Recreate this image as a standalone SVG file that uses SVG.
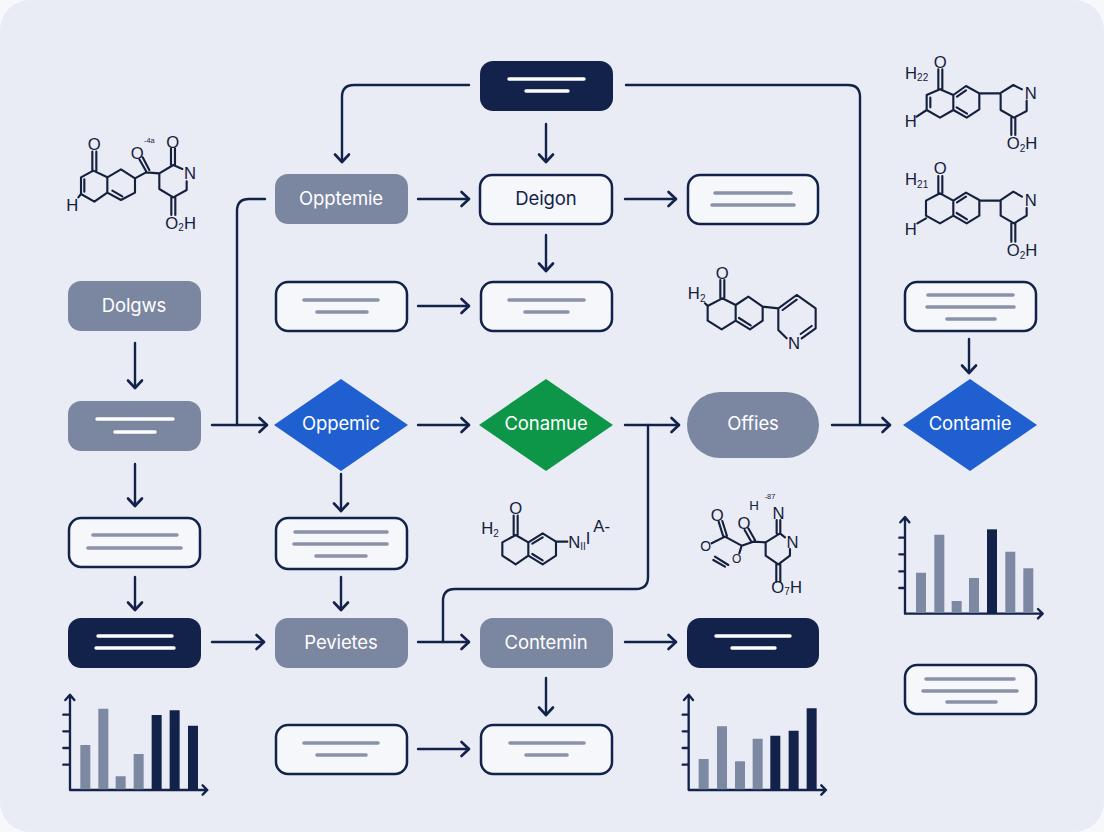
<svg xmlns="http://www.w3.org/2000/svg" width="1104" height="832" viewBox="0 0 1104 832">
<style>
text{font-family:Inter,"Liberation Sans",sans-serif}
.nl{font-size:18.5px;fill:#fff;text-anchor:middle;font-weight:400;letter-spacing:-.1px}
.w{fill:#f5f7fb;stroke:#12224a;stroke-width:2.5}
.g{fill:#7b86a1}.k{fill:#12224a}
.gl{stroke:#8a93a8;stroke-width:3.6;stroke-linecap:round;fill:none}
.wl{stroke:#fff;stroke-width:3.4;stroke-linecap:round;fill:none}
.c{fill:none;stroke:#12224a;stroke-width:2.4;stroke-linecap:round}
.a{marker-end:url(#ah)}
.m{fill:none;stroke:#15203c;stroke-width:6.4;stroke-linecap:round;stroke-linejoin:round}
.mt{font-family:"Liberation Sans",Arial,sans-serif;font-size:50px;fill:#15203c;text-anchor:middle}
.ms{font-size:30px}
.mi{font-size:22px}
.ax{fill:none;stroke:#12224a;stroke-width:7;stroke-linecap:round;stroke-linejoin:round}
.bg{fill:#7d88a3}.bk{fill:#12224a}
</style>
<defs>
<marker id="ah" markerUnits="userSpaceOnUse" markerWidth="14" markerHeight="18" refX="10" refY="9" orient="auto"><path d="M2.5 2 L10 9 L2.5 16" fill="none" stroke="#12224a" stroke-width="2.6" stroke-linecap="round" stroke-linejoin="round"/></marker>
</defs>
<rect width="1104" height="832" fill="#f7f8fb"/>
<rect width="1104" height="832" rx="30" fill="#e9ecf4"/>

<g id="connectors">
<path class="c a" d="M469 85H354Q342 85 342 97V162"/>
<path class="c" d="M626 85H848Q860 85 860 97V425"/>
<path class="c a" d="M546 124V162"/>
<path class="c a" d="M418 199H469"/>
<path class="c a" d="M625 199H676"/>
<path class="c a" d="M546 235V271"/>
<path class="c a" d="M418 306H469"/>
<path class="c" d="M265 199H249Q237 199 237 211V425"/>
<path class="c a" d="M212 425H267"/>
<path class="c a" d="M418 425H469"/>
<path class="c a" d="M625 425H679"/>
<path class="c a" d="M832 425H890"/>
<path class="c a" d="M418 642H469"/>
<path class="c" d="M443 642V601Q443 589 455 589H636Q648 589 648 577V425"/>
<path class="c a" d="M135 343V388"/>
<path class="c a" d="M135 464V506"/>
<path class="c a" d="M135 577V610"/>
<path class="c a" d="M212 642H264"/>
<path class="c a" d="M341 474V511"/>
<path class="c a" d="M341 577V610"/>
<path class="c a" d="M625 642H676"/>
<path class="c a" d="M546 678V715"/>
<path class="c a" d="M418 749H469"/>
<path class="c a" d="M969 339V373"/>
</g>

<g id="n-top"><rect class="k" x="480" y="61" width="133" height="50" rx="13"/><path class="wl" d="M509 79H584M526 91H568"/></g>
<g id="n-opptemie"><rect class="g" x="275" y="174" width="133" height="50" rx="13"/><text class="nl" x="341" y="205">Opptemie</text></g>
<g id="n-deigon"><rect class="w" x="480" y="175" width="132" height="49" rx="12"/><text class="nl" x="546" y="205" style="fill:#12224a">Deigon</text></g>
<g id="n-r1"><rect class="w" x="688" y="175" width="130" height="49" rx="12"/><path class="gl" d="M715 193H791M712 205H794"/></g>
<g id="n-m1"><rect class="w" x="276" y="282" width="131" height="49" rx="12"/><path class="gl" d="M304 300H378M317 312H367"/></g>
<g id="n-m2"><rect class="w" x="481" y="282" width="131" height="49" rx="12"/><path class="gl" d="M509 300H584M525 312H568"/></g>
<g id="n-dolgws"><rect class="g" x="68" y="281" width="133" height="50" rx="13"/><text class="nl" x="134" y="312">Dolgws</text></g>
<g id="n-g2"><rect class="g" x="68" y="401" width="133" height="50" rx="13"/><path class="wl" d="M97 419H173M115 432H155"/></g>
<g id="n-oppemic"><path d="M341 379L408 425L341 471L274 425Z" fill="#1f5fcf"/><text class="nl" x="341" y="430">Oppemic</text></g>
<g id="n-conamue"><path d="M546 379L613 425L546 471L479 425Z" fill="#0d9648"/><text class="nl" x="546" y="430">Conamue</text></g>
<g id="n-offies"><rect class="g" x="687" y="392" width="132" height="66" rx="33"/><text class="nl" x="753" y="430">Offies</text></g>
<g id="n-contamie"><path d="M970 379L1037 425L970 471L903 425Z" fill="#1f5fcf"/><text class="nl" x="970" y="430">Contamie</text></g>
<g id="n-r3"><rect class="w" x="905" y="282" width="131" height="49" rx="12"/><path class="gl" d="M928 295H1013M927 307H1014M947 319H995"/></g>
<g id="n-w1"><rect class="w" x="69" y="518" width="131" height="49" rx="12"/><path class="gl" d="M93 535H177M88 548H181"/></g>
<g id="n-w2"><rect class="w" x="276" y="518" width="131" height="51" rx="12"/><path class="gl" d="M295 532H387M294 544H387M316 556H366"/></g>
<g id="n-k1"><rect class="k" x="68" y="618" width="133" height="50" rx="13"/><path class="wl" d="M98 636H172M96 648H174"/></g>
<g id="n-pevietes"><rect class="g" x="275" y="618" width="133" height="50" rx="13"/><text class="nl" x="341" y="649">Pevietes</text></g>
<g id="n-contemin"><rect class="g" x="480" y="618" width="133" height="50" rx="13"/><text class="nl" x="546" y="649">Contemin</text></g>
<g id="n-k2"><rect class="k" x="687" y="618" width="132" height="50" rx="13"/><path class="wl" d="M716 636H790M732 648H775"/></g>
<g id="n-b1"><rect class="w" x="276" y="725" width="131" height="49" rx="12"/><path class="gl" d="M304 743H378M317 755H366"/></g>
<g id="n-b2"><rect class="w" x="481" y="725" width="131" height="49" rx="12"/><path class="gl" d="M510 743H584M526 755H567"/></g>
<g id="n-r4"><rect class="w" x="905" y="665" width="131" height="49" rx="12"/><path class="gl" d="M926 679H1014M923 691H1017M947 702H996"/></g>

<g transform="translate(50 120) scale(.3333)">
<path class="m" d="M130 152L93 172V222L133 245L172 218V172ZM172 172L213 148L255 175V218L213 240L172 218M187 212L217 229M103 178V215M127 95V152M139 95V152M255 175L288 157M268 118L288 153M278 112L298 150M288 157L328 160L370 135L397 147M410 184L410 210L370 232L328 207V160M363 85V135M375 85V135M364 232V285M376 232V285M93 222L85 232"/>
<text class="mt" x="133" y="91">O</text><text class="mt" x="262" y="118">O</text><text class="mt" x="368" y="83">O</text><text class="mt" x="420" y="178">N</text><text class="mt" x="67" y="273">H</text>
<text class="mt" x="392" y="326">O<tspan class="ms" dy="8">2</tspan><tspan dy="-8">H</tspan></text><text class="mt mi" x="298" y="70">-4a</text>
</g>

<g transform="translate(890 50) scale(.3333)">
<path class="m" d="M150 118L110 135V180L150 203L190 180V135ZM190 135L228 108L268 130V178L230 203L190 180M121 143V172M200 172L231 191M201 140L228 121M145 58V118M157 58V118M80 200L110 180M268 130H330L370 105L396 118M410 152L410 183L372 203L332 180V130M364 203V255M376 203V255"/>
<text class="mt" x="151" y="54">O</text><text class="mt" x="422" y="148">N</text><text class="mt" x="62" y="231">H</text>
<text class="mt" x="396" y="298">O<tspan class="ms" dy="8">2</tspan><tspan dy="-8">H</tspan></text>
<text class="mt" x="80" y="86">H<tspan class="ms" dy="8">22</tspan></text>
</g>

<g transform="translate(890 50) scale(.3333)">
<path class="m" d="M150 430L108 452V497L150 520L190 497V452ZM190 452L228 428L268 450V497L230 520L190 497M200 489L231 508M201 457L228 440M145 378V430M157 378V430M82 520L108 505M268 452H330L370 425L396 440M410 474L410 497L372 520L332 497V452M364 520V575M376 520V575"/>
<text class="mt" x="151" y="373">O</text><text class="mt" x="422" y="468">N</text><text class="mt" x="62" y="555">H</text>
<text class="mt" x="396" y="618">O<tspan class="ms" dy="8">2</tspan><tspan dy="-8">H</tspan></text>
<text class="mt" x="80" y="406">H<tspan class="ms" dy="8">21</tspan></text>
</g>

<g transform="translate(670 250) scale(.3333)">
<path class="m" d="M157 145L113 168V212L155 238L197 212V165ZM197 165L235 140L278 170V212L240 238L197 212M207 204L242 226M151 90V145M163 90V145M105 160L113 168M278 170L325 175L380 135L437 175V235L395 265M350 265L325 240V175M338 180L380 149M425 228L392 252"/>
<text class="mt" x="157" y="86">O</text><text class="mt" x="372" y="298">N</text>
<text class="mt" x="80" y="148">H<tspan class="ms" dy="8">2</tspan></text>
</g>

<g transform="translate(470 485) scale(.3333)">
<path class="m" d="M137 150L97 172V212L137 238L175 212V172ZM175 172L218 145L258 170V212L218 238L175 212M187 176L218 157M187 207L218 226M131 92V150M143 92V150M258 170H292"/>
<text class="mt" x="137" y="88">O</text>
<text class="mt" x="60" y="148">H<tspan class="ms" dy="8">2</tspan></text>
<text class="mt" x="328" y="188">N<tspan class="ms" dy="8">II</tspan><tspan dy="-18">I</tspan></text>
<text class="mt" x="395" y="142">A-</text>
</g>

<g transform="translate(470 485) scale(.3333)">
<path class="m" d="M746 110L760 155M757 108L771 153M765 155L815 182L850 170M824 135L844 170M835 130L855 165M850 170L887 172L930 145L945 157M920 105V145M931 105V145M960 192L960 212L925 238L887 212V172M919 238V290M931 238V290M765 155L725 175M815 182L808 205M735 215L775 240M730 225L765 245"/>
<text class="mt" x="742" y="108">O</text><text class="mt" x="822" y="133">O</text><text class="mt" x="926" y="102">N</text><text class="mt" x="968" y="188">N</text>
<text class="mt" x="707" y="198" style="font-size:42px">O</text><text class="mt" x="800" y="235" style="font-size:36px">O</text>
<text class="mt" x="950" y="323">O<tspan class="ms" dy="8">7</tspan><tspan dy="-8">H</tspan></text>
<text class="mt" style="font-size:40px" x="852" y="74">H</text><text class="mt mi" x="900" y="42">-87</text>
</g>

<g transform="translate(50 680) scale(.3333)">
<path class="ax" d="M60 330V45M46 60L60 44L73 60M60 330H470M458 316L472 330L458 344M40 104H60M40 154H60M40 204H60M40 254H60"/>
<path class="bg" d="M91 195h30V328h-30zM145 86h30V328h-30zM197 289h30V328h-30zM251 222h30V328h-30z"/>
<path class="bk" d="M305 105h30V328h-30zM359 91h30V328h-30zM414 137h30V328h-30z"/>
</g>
<g transform="translate(670 680) scale(.3333)">
<path class="ax" d="M56 330V45M42 60L56 44L69 60M56 330H466M454 316L468 330L454 344M38 104H56M38 154H56M38 204H56M38 254H56"/>
<path class="bg" d="M86 237h30V328h-30zM141 139h30V328h-30zM195 244h30V328h-30zM248 176h30V328h-30z"/>
<path class="bk" d="M301 167h30V328h-30zM356 152h30V328h-30zM410 85h30V328h-30z"/>
</g>
<g transform="translate(890 505) scale(.3333)">
<path class="ax" d="M45 326V38M31 52L45 36L58 52M45 326H456M444 312L458 326L444 340M28 98H45M28 148H45M28 199H45M28 249H45"/>
<path class="bg" d="M78 203h30V324h-30zM133 89h30V324h-30zM185 288h30V324h-30zM237 219h30V324h-30zM346 140h30V324h-30zM400 190h30V324h-30z"/>
<path class="bk" d="M291 73h30V324h-30z"/>
</g>
</svg>
